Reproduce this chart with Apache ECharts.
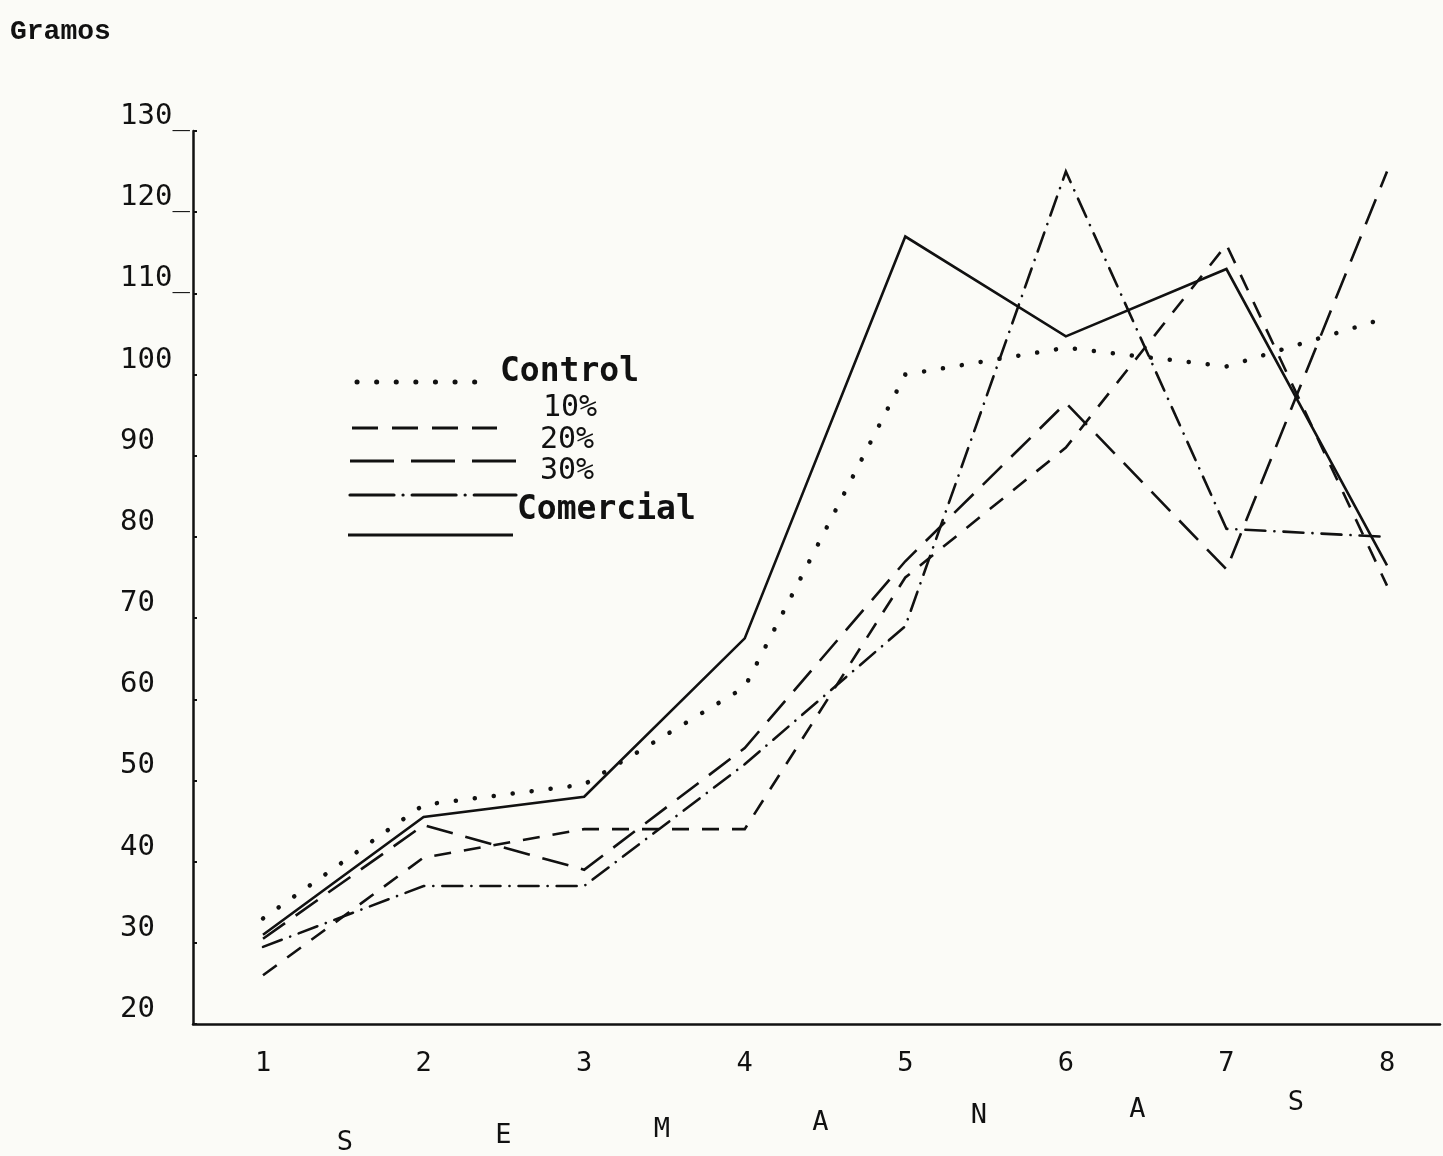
<!DOCTYPE html>
<html><head><meta charset="utf-8">
<script src="https://cdn.jsdelivr.net/npm/echarts@6/dist/echarts.min.js"></script>
<style>html,body{margin:0;padding:0;background:#fbfbf7;}#c{width:1443px;height:1156px;}</style>
</head><body><div id="c"></div>
<script>
const weeks = [1, 2, 3, 4, 5, 6, 7, 8];
const control = [33, 47, 49.5, 61.5, 100, 103.3, 101, 107];
const p10 = [26, 40.5, 44, 44, 75, 91, 116, 74];
const p20 = [30.5, 44.5, 39, 54, 77, 96.5, 76, 125];
const p30 = [29.5, 37, 37, 52, 69, 125, 81, 80];
const comercial = [31, 45.5, 48, 67.5, 117, 104.7, 113, 76.5];
const yTickValues = [20, 30, 40, 50, 60, 70, 80, 90, 100, 110, 120, 130];
const xTickValues = [1, 2, 3, 4, 5, 6, 7, 8];
const seriesNames = ['Control', '10%', '20%', '30%', 'Comercial'];
const yTitle = 'Gramos';
const xTitleLetters = ['S', 'E', 'M', 'A', 'N', 'A', 'S'];

const INK = '#111';
const MONO = '"DejaVu Sans Mono", "Liberation Mono", monospace';
const styles = {
  'Control':   { width: 4.5, type: [0.1, 19], cap: 'round' },
  '10%':       { width: 2.6, type: [17, 13], cap: 'butt' },
  '20%':       { width: 2.6, type: [27, 13], cap: 'butt' },
  '30%':       { width: 2.6, type: [20, 9, 0.1, 9], cap: 'round' },
  'Comercial': { width: 2.6, type: 'solid', cap: 'butt' }
};
const values = { 'Control': control, '10%': p10, '20%': p20, '30%': p30, 'Comercial': comercial };

const chart = echarts.init(document.getElementById('c'), null, { renderer: 'canvas' });

// legend (drawn as graphic)
const g = [];
const legendRows = [
  { name: 'Control',   x1: 357, x2: 492, ly: 382, tx: 500, ty: 372, bold: true,  fs: 33, dash: [0.1, 19.5], w: 5, cap: 'round' },
  { name: '10%',       x1: 352, x2: 497, ly: 428, tx: 543, ty: 408, bold: false, fs: 30, dash: [26, 14], w: 3, cap: 'butt' },
  { name: '20%',       x1: 350, x2: 517, ly: 461, tx: 540, ty: 440, bold: false, fs: 30, dash: [44, 17], w: 3, cap: 'butt' },
  { name: '30%',       x1: 350, x2: 516, ly: 495, tx: 540, ty: 471, bold: false, fs: 30, dash: [44, 9, 0.1, 9], w: 3.2, cap: 'round' },
  { name: 'Comercial', x1: 348, x2: 513, ly: 535, tx: 517, ty: 510, bold: true,  fs: 33, dash: null, w: 3, cap: 'butt' }
];
legendRows.forEach(r => {
  g.push({ type: 'line', shape: { x1: r.x1, y1: r.ly, x2: r.x2, y2: r.ly },
    style: { stroke: INK, lineWidth: r.w, lineDash: r.dash, lineCap: r.cap } });
  g.push({ type: 'text', x: r.tx, y: r.ty,
    style: { text: r.name, fill: INK, font: (r.bold ? 'bold ' : '') + r.fs + 'px ' + MONO, verticalAlign: 'middle', align: 'left' } });
});
g.push({ type: 'text', x: 10, y: 32, style: { text: yTitle, fill: INK, font: 'bold 28px "Liberation Mono", monospace', verticalAlign: 'middle' } });
xTitleLetters.forEach((ch, i) => {
  g.push({ type: 'text', x: 345 + i * 158.5, y: 1143 - i * 6.7,
    style: { text: ch, fill: INK, font: '27px ' + MONO, align: 'center', verticalAlign: 'middle' } });
});

chart.setOption({
  backgroundColor: '#fbfbf7',
  animation: false,
  grid: { left: 193, right: 3, top: 131, bottom: 132, containLabel: false },
  xAxis: {
    type: 'value', min: 0.564, max: 8.33,
    splitLine: { show: false },
    axisLine: { show: true, lineStyle: { color: INK, width: 2.5 } },
    axisTick: { show: false },
    axisLabel: { customValues: xTickValues, formatter: v => String(v), color: INK, fontSize: 27, fontFamily: MONO, margin: 26 }
  },
  yAxis: {
    type: 'value', min: 20, max: 130, interval: 10,
    splitLine: { show: false },
    axisLine: { show: true, lineStyle: { color: INK, width: 2.5 } },
    axisTick: { show: true, inside: true, length: 4, lineStyle: { color: INK, width: 2 } },
    axisLabel: {
      customValues: yTickValues,
      formatter: v => v >= 110 ? v + '_' : String(v),
      color: INK, fontSize: 29, fontFamily: MONO, align: 'left', verticalAlign: 'bottom', margin: 73
    }
  },
  series: seriesNames.map(n => ({
    name: n, type: 'line', showSymbol: false, symbol: 'none', silent: true,
    data: weeks.map((w, i) => [w, values[n][i]]),
    lineStyle: { color: INK, width: styles[n].width, type: styles[n].type, cap: styles[n].cap, join: 'miter' }
  })),
  graphic: g
});
</script></body></html>
